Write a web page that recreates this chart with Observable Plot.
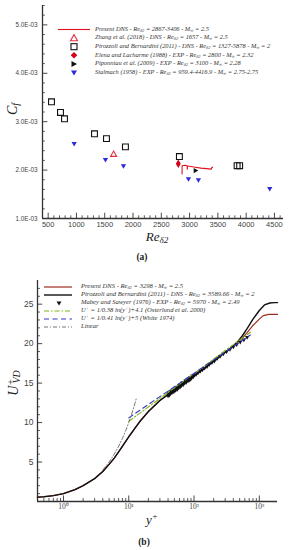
<!DOCTYPE html>
<html><head><meta charset="utf-8">
<script src="https://cdn.jsdelivr.net/npm/d3@7"></script>
<script src="https://cdn.jsdelivr.net/npm/@observablehq/plot@0.6"></script>
<style>
body{margin:0;background:#fff;}
#wrap{position:relative;width:290px;height:550px;overflow:hidden;font-family:"Liberation Serif",serif;color:#222;}
.leg{position:absolute;font-style:italic;white-space:nowrap;line-height:1;color:#333;}
.leg sub,.lab sub{font-size:70%;vertical-align:-0.25em;line-height:0;}
.leg sup,.lab sup{font-size:70%;vertical-align:0.45em;line-height:0;}
.lab{position:absolute;font-style:italic;white-space:nowrap;line-height:1;color:#222;}
.cap{position:absolute;font-weight:bold;font-size:9.5px;color:#222;}
</style></head><body><div id="wrap"></div>
<script>
// ---------- Panel (a) data ----------
const presentRe = [2867, 2868, 2920, 2958, 2959, 2962, 3000, 3100, 3200, 3300, 3385, 3390, 3406];
const presentCf = [1.92e-3, 2.09e-3, 2.10e-3, 2.09e-3, 2.02e-3, 2.08e-3, 2.08e-3, 2.06e-3, 2.04e-3, 2.03e-3, 2.02e-3, 2.05e-3, 2.06e-3];
const zhangRe = [1657];
const zhangCf = [2.32e-3];
const pirozzoliRe = [559, 718, 789, 1319, 1531, 1866, 2820, 3840, 3885];
const pirozzoliCf = [3.41e-3, 3.19e-3, 3.06e-3, 2.75e-3, 2.65e-3, 2.48e-3, 2.28e-3, 2.09e-3, 2.09e-3];
const elenaRe = [2800];
const elenaCf = [2.13e-3];
const piponniauRe = [3100];
const piponniauCf = [1.99e-3];
const stalmachRe = [959.4, 1513, 1831, 2980, 3156, 4416.9];
const stalmachCf = [2.55e-3, 2.22e-3, 2.09e-3, 1.82e-3, 1.80e-3, 1.62e-3];
const reTicks = [500, 1000, 1500, 2000, 2500, 3000, 3500, 4000, 4500];
const cfTicks = [1e-3, 2e-3, 3e-3, 4e-3, 5e-3];
const cfTickLabels = ["1.0E-03", "2.0E-03", "3.0E-03", "4.0E-03", "5.0E-03"];

// ---------- Panel (b) data ----------
const dnsYp = [0.4, 0.5, 0.7, 1, 1.5, 2, 3, 4, 5, 6, 7, 8, 10, 12, 15, 20, 30, 44, 70, 100, 150, 200, 300, 400, 460, 550, 650, 800, 1000, 1150, 1400, 1900];
const dnsU  = [0.55, 0.6, 0.75, 1.0, 1.5, 2.0, 2.9, 3.8, 4.7, 5.5, 6.3, 7.0, 8.2, 9.1, 10.2, 11.4, 12.8, 13.8, 15.0, 15.9, 17.0, 17.8, 18.9, 19.7, 20.1, 20.7, 21.4, 22.3, 23.1, 23.55, 23.7, 23.7];
const pbYp  = [0.4, 0.5, 0.7, 1, 1.5, 2, 3, 4, 5, 6, 7, 8, 10, 12, 15, 20, 30, 44, 70, 100, 150, 200, 300, 400, 460, 550, 650, 800, 1000, 1200, 1450, 1700, 1900];
const pbU   = [0.55, 0.6, 0.75, 1.0, 1.5, 2.0, 2.9, 3.8, 4.7, 5.5, 6.3, 7.0, 8.2, 9.1, 10.2, 11.4, 12.8, 13.8, 15.0, 15.9, 17.0, 17.8, 18.9, 19.7, 20.2, 21.0, 21.9, 23.1, 24.2, 24.9, 25.15, 25.2, 25.2];
const mabeyYp = [40, 41, 42, 43, 44, 45, 46, 48, 49, 50, 52, 53, 55, 56, 58, 59, 61, 62, 64, 66, 68, 70, 72, 74, 76, 78, 81, 83, 86, 88, 91, 94, 97, 100, 107, 115, 124, 134, 145, 158, 172, 188, 205, 225, 250, 280, 315, 355, 400, 450, 510, 580, 650];
const mabeyU  = [13.4, 13.7, 13.5, 13.9, 13.7, 14.0, 13.8, 14.1, 13.9, 14.2, 14.1, 14.4, 14.2, 14.5, 14.4, 14.7, 14.5, 14.8, 14.7, 15.0, 14.8, 15.1, 15.0, 15.3, 15.1, 15.4, 15.3, 15.6, 15.4, 15.7, 15.6, 15.9, 15.8, 16.0, 16.1, 16.3, 16.5, 16.7, 16.9, 17.1, 17.4, 17.6, 17.8, 18.1, 18.4, 18.7, 19.0, 19.3, 19.6, 19.9, 20.2, 20.5, 20.8];
const logOstYp = [10, 730];
const logOstU  = [10.16, 21.45];
const logWhiteYp = [10, 730];
const logWhiteU  = [10.6, 21.1];
const linearYp = [4, 5, 6, 7, 8, 9, 10, 11, 12, 13];
const linearU  = [4, 5, 6, 7, 8, 9, 10, 11, 12, 13];
const ypTicks = [1, 10, 100, 1000];
const ypTickLabels = ["10\u2070", "10\u00b9", "10\u00b2", "10\u00b3"];
const uTicks = [5, 10, 15, 20, 25];

// ---------- helpers ----------
const zip = (xs, ys) => xs.map((x, i) => ({x, y: ys[i]}));
function tri(dir){
  return {draw(ctx, size){
    const s = Math.sqrt(size) * 1.15, h = s * Math.sqrt(3) / 2;
    let p;
    if (dir === "down") p = [[-s/2, -h/3], [s/2, -h/3], [0, 2*h/3]];
    else if (dir === "right") p = [[-h/3, -s/2], [-h/3, s/2], [2*h/3, 0]];
    else p = [[-s/2, h/3], [s/2, h/3], [0, -2*h/3]];
    ctx.moveTo(p[0][0], p[0][1]); ctx.lineTo(p[1][0], p[1][1]); ctx.lineTo(p[2][0], p[2][1]); ctx.closePath();
  }};
}
const wrap = document.getElementById("wrap");
const AX = "#333";

// ---------- Panel (a) ----------
const xA = [400, 4660], yA = [1e-3, 5.4e-3];
const minorRe = d3.range(500, 4601, 100).filter(d => d % 500 !== 0);
const minorCf = d3.range(1.2e-3, 5.41e-3, 0.2e-3).filter(d => Math.abs(d * 1000 - Math.round(d * 1000)) > 1e-6);
const cfLab = new Map(cfTicks.map((d, i) => [d, cfTickLabels[i]]));
const pa = Plot.plot({
  width: 290, height: 250, marginLeft: 42, marginRight: 7, marginTop: 5, marginBottom: 32,
  style: {background: "transparent", fontFamily: "Liberation Sans, Arial, sans-serif", color: "#444", overflow: "visible"},
  x: {domain: xA}, y: {domain: yA},
  marks: [
    Plot.ruleX(minorRe, {x: d => d, y1: yA[0], y2: yA[0] + 0.55e-4, stroke: AX, strokeWidth: 0.8}),
    Plot.ruleX(reTicks, {x: d => d, y1: yA[0], y2: yA[0] + 1.1e-4, stroke: AX, strokeWidth: 0.9}),
    Plot.ruleY(minorCf, {y: d => d, x1: xA[0], x2: xA[0] + 50, stroke: AX, strokeWidth: 0.8}),
    Plot.ruleY(cfTicks, {y: d => d, x1: xA[0], x2: xA[0] + 95, stroke: AX, strokeWidth: 0.9}),
    Plot.ruleY([yA[0]], {x1: xA[0], x2: xA[1], stroke: AX, strokeWidth: 1.3}),
    Plot.ruleX([xA[0]], {y1: yA[0], y2: yA[1], stroke: AX, strokeWidth: 1.3}),
    Plot.axisX({ticks: reTicks, tickSize: 0, tickPadding: 3, fontSize: 7.5, tickFormat: d => String(d), label: null}),
    Plot.axisY({ticks: cfTicks, tickSize: 0, tickPadding: 5, fontSize: 6.3, tickFormat: d => cfLab.get(d), label: null}),
    Plot.line(zip(presentRe, presentCf), {x: "x", y: "y", stroke: "#e0101e", strokeWidth: 1.1}),
    Plot.dot(zip(pirozzoliRe, pirozzoliCf), {x: "x", y: "y", symbol: "square", r: 3.3, stroke: "#111", strokeWidth: 1.1, fill: "none"}),
    Plot.dot(zip(stalmachRe, stalmachCf), {x: "x", y: "y", symbol: tri("down"), r: 2.6, fill: "#2a2ae0", stroke: "none"}),
    Plot.dot(zip(zhangRe, zhangCf), {x: "x", y: "y", symbol: tri("up"), r: 3.0, stroke: "#e03040", strokeWidth: 1.1, fill: "none"}),
    Plot.dot(zip(elenaRe, elenaCf), {x: "x", y: "y", symbol: "diamond", r: 2.6, fill: "#d4001a", stroke: "none"}),
    Plot.dot(zip(piponniauRe, piponniauCf), {x: "x", y: "y", symbol: tri("right"), r: 2.6, fill: "#111", stroke: "none"})
  ]
});
pa.style.position = "absolute"; pa.style.left = "0px"; pa.style.top = "0px";
wrap.appendChild(pa);

// ---------- Panel (b) ----------
const xB = [0.4, 1900], yB = [0, 28];
const minorYp = [0.5, 0.6, 0.7, 0.8, 0.9, 2, 3, 4, 5, 6, 7, 8, 9, 20, 30, 40, 50, 60, 70, 80, 90, 200, 300, 400, 500, 600, 700, 800, 900];
const minorU = d3.range(1, 28, 1).filter(d => d % 5 !== 0);
const ypLab = new Map(ypTicks.map((d, i) => [d, ypTickLabels[i]]));
const pb = Plot.plot({
  width: 290, height: 266, marginLeft: 37, marginRight: 13, marginTop: 10, marginBottom: 35,
  style: {background: "transparent", fontFamily: "Liberation Sans, Arial, sans-serif", color: "#444", overflow: "visible"},
  x: {type: "log", domain: xB}, y: {domain: yB},
  marks: [
    Plot.ruleX(minorYp, {x: d => d, y1: 0, y2: 0.38, stroke: AX, strokeWidth: 0.8}),
    Plot.ruleX(ypTicks, {x: d => d, y1: 0, y2: 0.7, stroke: AX, strokeWidth: 0.9}),
    Plot.ruleY(minorU, {y: d => d, x1: xB[0], x2: xB[0] * 1.11, stroke: AX, strokeWidth: 0.8}),
    Plot.ruleY(uTicks, {y: d => d, x1: xB[0], x2: xB[0] * 1.2, stroke: AX, strokeWidth: 0.9}),
    Plot.ruleY([0], {x1: xB[0], x2: xB[1], stroke: AX, strokeWidth: 1.3}),
    Plot.ruleX([xB[0]], {y1: 0, y2: yB[1], stroke: AX, strokeWidth: 1.3}),
    Plot.axisX({ticks: ypTicks, tickSize: 0, tickPadding: 2, fontSize: 7.5, fontFamily: "Liberation Serif, serif", tickFormat: d => ypLab.get(d), label: null}),
    Plot.axisY({ticks: uTicks, tickSize: 0, tickPadding: 4, fontSize: 8.5, tickFormat: d => String(d), label: null}),
    Plot.line(zip(dnsYp, dnsU), {x: "x", y: "y", stroke: "#9b2d20", strokeWidth: 1.2}),
    Plot.line(zip(pbYp, pbU), {x: "x", y: "y", stroke: "#111", strokeWidth: 1.4}),
    Plot.dot(zip(mabeyYp, mabeyU), {x: "x", y: "y", symbol: tri("down"), r: 2.1, fill: "#111", stroke: "none"}),
    Plot.line(zip(logOstYp, logOstU), {x: "x", y: "y", stroke: "#7cb518", strokeWidth: 1.1, strokeDasharray: "5,2,1.5,2"}),
    Plot.line(zip(logWhiteYp, logWhiteU), {x: "x", y: "y", stroke: "#3535cc", strokeWidth: 1.1, strokeDasharray: "5,3.5"}),
    Plot.line(zip(linearYp, linearU), {x: "x", y: "y", stroke: "#666", strokeWidth: 0.9, strokeDasharray: "4,2,1,2"})
  ]
});
pb.style.position = "absolute"; pb.style.left = "0px"; pb.style.top = "270px";
wrap.appendChild(pb);

// ---------- Legends ----------
const RE = "Re<sub>\u03b42</sub>", MI = "M<sub>\u221e</sub>";
const legA = [
  "Present DNS - " + RE + " = 2867-3406 - " + MI + " = 2.5",
  "Zhang et al. (2018) - DNS - " + RE + " = 1657 - " + MI + " = 2.5",
  "Pirozzoli and Bernardini (2011) - DNS - " + RE + " = 1327-5878 - " + MI + " = 2",
  "Elena and Lacharme (1988) - EXP - " + RE + " = 2800 - " + MI + " = 2.32",
  "Piponniau et al. (2009) - EXP - " + RE + " = 3100 - " + MI + " = 2.28",
  "Stalmach (1958) - EXP - " + RE + " = 959.4-4416.9 - " + MI + " = 2.75-2.75"
];
const legB = [
  "Present DNS - " + RE + " = 3298 - " + MI + " = 2.5",
  "Pirozzoli and Bernardini (2011) - DNS - " + RE + " = 3589.66 - " + MI + " = 2",
  "Mabey and Sawyer (1976) - EXP - " + RE + " = 5970 - " + MI + " = 2.49",
  "U<sup>+</sup> = 1/0.38 ln(y<sup>+</sup>)+4.1 (Osterlund et al. 2000)",
  "U<sup>+</sup> = 1/0.41 ln(y<sup>+</sup>)+5 (White 1974)",
  "Linear"
];
const rowA0 = 29.5, stepA = 8.6, rowB0 = 287, stepB = 8;
legA.forEach((t, i) => {
  const d = document.createElement("div"); d.className = "leg";
  d.style.left = "95px"; d.style.top = (rowA0 + i * stepA - 3.8) + "px"; d.style.fontSize = "6.4px";
  d.innerHTML = t; wrap.appendChild(d);
});
legB.forEach((t, i) => {
  const d = document.createElement("div"); d.className = "leg";
  d.style.left = "81px"; d.style.top = (rowB0 + i * stepB - 3.8) + "px"; d.style.fontSize = "6.6px";
  d.innerHTML = t; wrap.appendChild(d);
});
const ns = "http://www.w3.org/2000/svg";
const ls = document.createElementNS(ns, "svg");
ls.setAttribute("width", 290); ls.setAttribute("height", 550);
ls.style.position = "absolute"; ls.style.left = "0"; ls.style.top = "0"; ls.style.pointerEvents = "none";
function el(tag, attrs){ const e = document.createElementNS(ns, tag); for (const k in attrs) e.setAttribute(k, attrs[k]); ls.appendChild(e); }
const ya = i => rowA0 + i * stepA, yb = i => rowB0 + i * stepB;
el("line", {x1: 58, x2: 90, y1: ya(0), y2: ya(0), stroke: "#e0101e", "stroke-width": 1.1});
el("path", {d: `M70.5,${ya(1)+2.6}L77.5,${ya(1)+2.6}L74,${ya(1)-3.4}Z`, fill: "none", stroke: "#e03040", "stroke-width": 1.1});
el("rect", {x: 71, y: ya(2) - 3, width: 6, height: 6, fill: "none", stroke: "#111", "stroke-width": 1.1});
el("path", {d: `M74,${ya(3)-3.3}L77.3,${ya(3)}L74,${ya(3)+3.3}L70.7,${ya(3)}Z`, fill: "#d4001a"});
el("path", {d: `M71.5,${ya(4)-3}L71.5,${ya(4)+3}L77,${ya(4)}Z`, fill: "#111"});
el("path", {d: `M71,${ya(5)-2}L77,${ya(5)-2}L74,${ya(5)+3}Z`, fill: "#2a2ae0"});
el("line", {x1: 44, x2: 72, y1: yb(0), y2: yb(0), stroke: "#9b2d20", "stroke-width": 1.2});
el("line", {x1: 44, x2: 72, y1: yb(1), y2: yb(1), stroke: "#111", "stroke-width": 1.4});
el("path", {d: `M56.5,${yb(2)-1.6}L61.5,${yb(2)-1.6}L59,${yb(2)+2.5}Z`, fill: "#111"});
el("line", {x1: 44, x2: 72, y1: yb(3), y2: yb(3), stroke: "#7cb518", "stroke-width": 1.1, "stroke-dasharray": "5,2,1.5,2"});
el("line", {x1: 44, x2: 72, y1: yb(4), y2: yb(4), stroke: "#3535cc", "stroke-width": 1.1, "stroke-dasharray": "5,3.5"});
el("line", {x1: 44, x2: 72, y1: yb(5), y2: yb(5), stroke: "#666", "stroke-width": 0.9, "stroke-dasharray": "4,2,1,2"});
wrap.appendChild(ls);

// ---------- Axis labels & captions ----------
function lab(html, x, y, size, rot){
  const d = document.createElement("div"); d.className = "lab";
  d.style.left = x + "px"; d.style.top = y + "px"; d.style.fontSize = size + "px";
  d.style.transform = "translate(-50%,-50%)" + (rot ? " rotate(-90deg)" : "");
  d.innerHTML = html; wrap.appendChild(d);
}
lab("C<sub>f</sub>", 13, 109, 14, true);
lab("Re<sub>\u03b42</sub>", 157, 236, 13, false);
lab("U<sup>+</sup><sub style='margin-left:-0.45em'>VD</sub>", 14, 383, 14, true);
lab("y<sup>+</sup>", 152, 519, 13, false);
function cap(t, x, y){ const d = document.createElement("div"); d.className = "cap"; d.style.left = x + "px"; d.style.top = y + "px"; d.style.transform = "translate(-50%,-50%)"; d.textContent = t; wrap.appendChild(d); }
cap("(a)", 142, 257);
cap("(b)", 144, 542);
</script></body></html>
